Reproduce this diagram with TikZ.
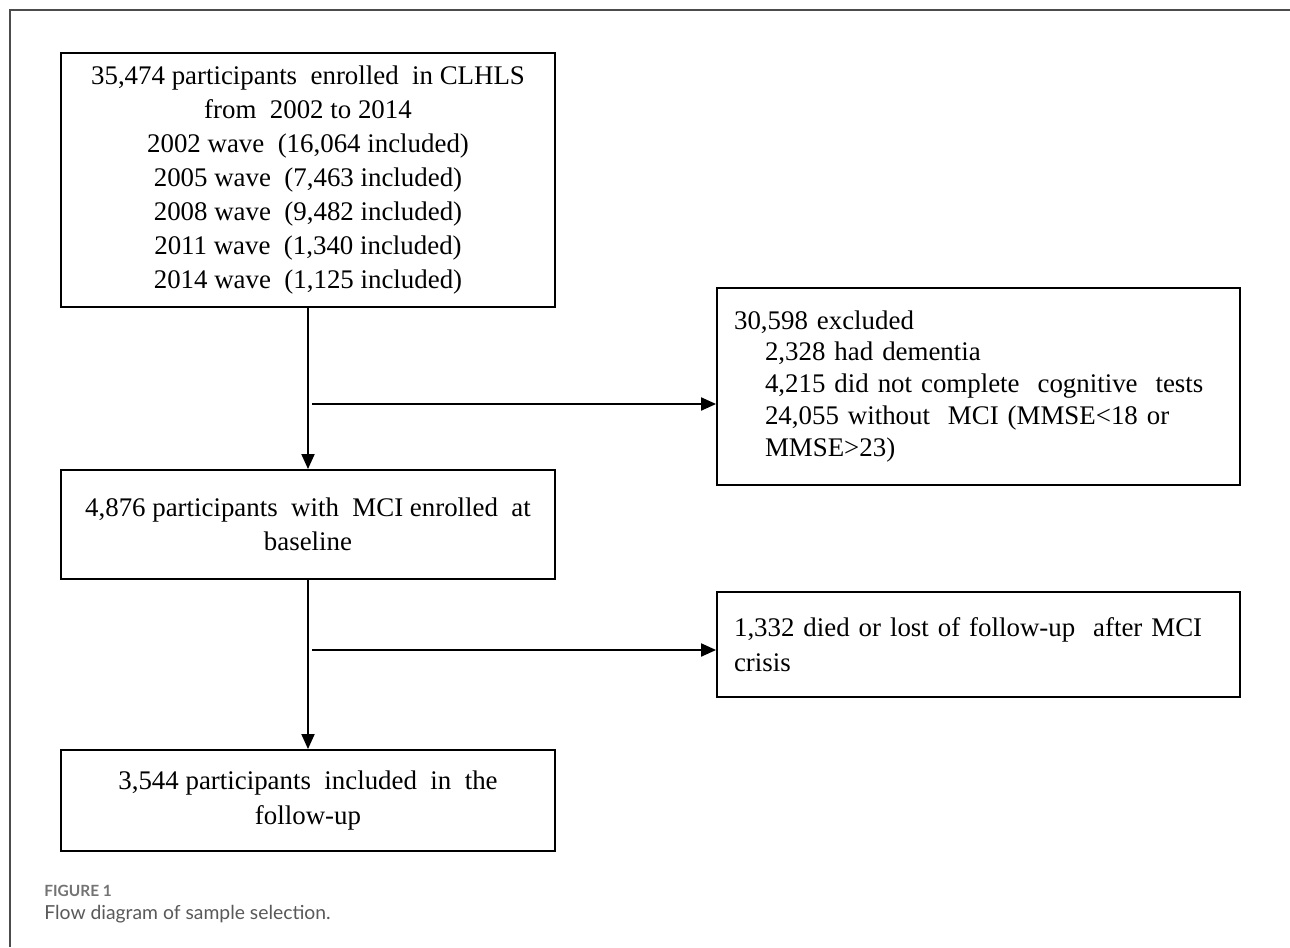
\documentclass[tikz,border=0pt]{standalone}
\usepackage{fontspec}
\setmainfont{Liberation Serif}
\newfontfamily\capfont{Lato}
\usetikzlibrary{arrows.meta,positioning}

\begin{document}
\begin{tikzpicture}[
  x=0.02cm, y=-0.02cm,
  box/.style={draw, line width=1.1pt, minimum width=9.88cm, align=center, inner sep=0pt, font=\fontsize{15.3}{19.4}\selectfont},
  sidebox/.style={draw, line width=1.1pt, text width=9.78cm, inner xsep=0.34cm, inner ysep=0pt, align=left, font=\fontsize{15.3}{18.2}\selectfont},
  flow/.style={line width=1.1pt, -{Triangle[length=0.3cm,width=0.26cm]}},
  frame/.style={draw=black!70, line width=1.1pt},
  capt/.style={anchor=west, inner sep=0pt}
]
\useasboundingbox (0,0) rectangle (1290,947);

% Outer frame (cut by the page on the right and bottom)
\draw[frame] (10,947) -- (10,10) -- (1290,10);

% Main column
\node[box, minimum height=5.08cm] (enrolled) at (308,180)
  {35,474 participants\ \ enrolled\ \ in CLHLS\\ from\ \ 2002 to 2014\\
   2002 wave\ \ (16,064 included)\\ 2005 wave\ \ (7,463 included)\\
   2008 wave\ \ (9,482 included)\\ 2011 wave\ \ (1,340 included)\\
   2014 wave\ \ (1,125 included)};
\node[box, minimum height=2.18cm] (mci) at (308,524.5)
  {4,876 participants\ \ with\ \ MCI enrolled\ \ at\\ baseline};
\node[box, minimum height=2.02cm] (followup) at (308,800.5)
  {3,544 participants\ \ included\ \ in\ \ the\\ follow-up};

% Side boxes
\node[sidebox, minimum height=3.94cm] (excluded) at (978.5,386.5)
  {30,598 excluded\\
   \hspace*{0.62cm}2,328 had dementia\\
   \hspace*{0.62cm}4,215 did not complete\ \ cognitive\ \ tests\\
   \hspace*{0.62cm}24,055 without\ \ MCI (MMSE<18 or\\
   \hspace*{0.62cm}MMSE>23)};
\node[sidebox, minimum height=2.1cm, font=\fontsize{15.3}{20}\selectfont] (lost) at (978.5,644.5)
  {1,332 died or lost of follow-up\ \ after MCI\\ crisis};

% Split points on the main line
\coordinate (split1) at (312,404);
\coordinate (split2) at (312,650);

% Arrows
\draw[flow] (enrolled) -- (mci);
\draw[flow] (mci) -- (followup);
\draw[flow] (split1) -- (excluded.west |- split1);
\draw[flow] (split2) -- (lost.west |- split2);

% Caption
\node[capt, text=black!55, font=\capfont\bfseries\fontsize{8.8}{11}\selectfont] (figlabel) at (44,891) {FIGURE 1};
\node[capt, text=black!65, font=\capfont\fontsize{11}{13}\selectfont] (figcaption) at (44,914) {Flow diagram of sample selection.};
\end{tikzpicture}
\end{document}
